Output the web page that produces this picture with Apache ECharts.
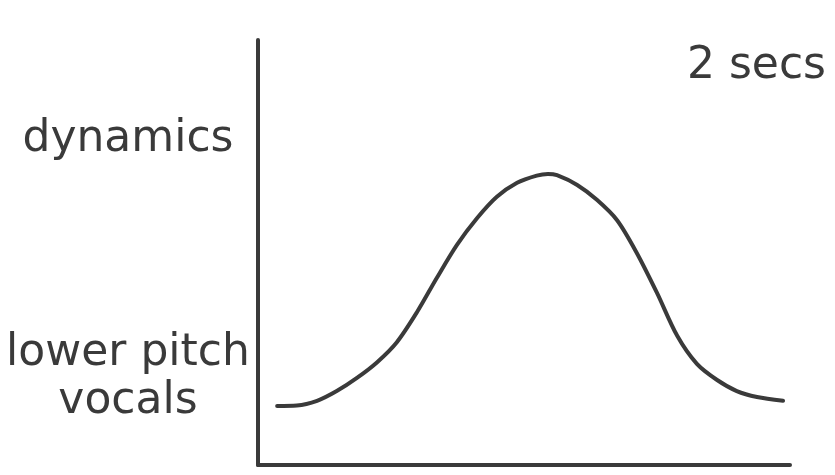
<!DOCTYPE html>
<html>
<head>
<meta charset="utf-8">
<script src="https://cdn.jsdelivr.net/npm/echarts@6/dist/echarts.min.js"></script>
<style>
  html, body { margin: 0; padding: 0; background: #fff; }
  #chart { width: 835px; height: 475px; }
</style>
</head>
<body>
<div id="chart"></div>
<script>
// time (0..100) and dynamics (0..100)
const timeValues = [3.6, 7.3, 11.1, 14.8, 18.6, 22.4, 26.1, 29.9, 33.6, 37.4, 41.2, 44.9, 48.7, 52.4,
  54.5, 56.2, 60.0, 63.7, 67.5, 71.2, 75.0, 78.8, 82.5, 86.3, 90.0, 93.8, 98.7];
const dynamicsValues = [13.9, 14.0, 15.1, 17.4, 20.5, 24.2, 28.9, 36.0, 44.0, 51.8, 58.1, 63.1, 66.4, 68.1,
  68.5, 68.2, 65.9, 62.4, 57.6, 49.9, 40.5, 30.4, 23.8, 20.0, 17.4, 16.0, 15.1];
const yLabelValues = [20.5, 76.5];
const yLabelTexts = ['lower pitch\nvocals', 'dynamics'];
const durationLabel = '2 secs';

const ink = '#3a3a3a';
const font = 'DejaVu Sans';

let myChart = echarts.init(document.getElementById('chart'));
let option = {
  animation: false,
  backgroundColor: '#fff',
  title: {
    text: durationLabel,
    right: 4,
    top: 40,
    textStyle: { color: ink, fontFamily: font, fontSize: 44, fontWeight: 'normal' },
  },
  grid: { left: 258, right: 45, top: 40, bottom: 10 },
  xAxis: {
    type: 'value',
    min: 0,
    max: 100,
    axisLine: { show: true, lineStyle: { color: ink, width: 4 } },
    axisTick: { show: false },
    axisLabel: { show: false },
    splitLine: { show: false },
  },
  yAxis: {
    type: 'value',
    min: 0,
    max: 100,
    axisLine: { show: true, lineStyle: { color: ink, width: 4 } },
    axisTick: { show: false },
    splitLine: { show: false },
    axisLabel: {
      customValues: yLabelValues,
      formatter: (v) => yLabelTexts[yLabelValues.indexOf(v)],
      align: 'center',
      margin: 130,
      color: ink,
      fontFamily: font,
      fontSize: 44,
      lineHeight: 48,
    },
  },
  series: [
    {
      type: 'line',
      smooth: 0.3,
      symbol: 'none',
      lineStyle: { color: ink, width: 4, cap: 'round' },
      data: timeValues.map((t, i) => [t, dynamicsValues[i]]),
    },
  ],
};

option && myChart.setOption(option);
</script>
</body>
</html>
